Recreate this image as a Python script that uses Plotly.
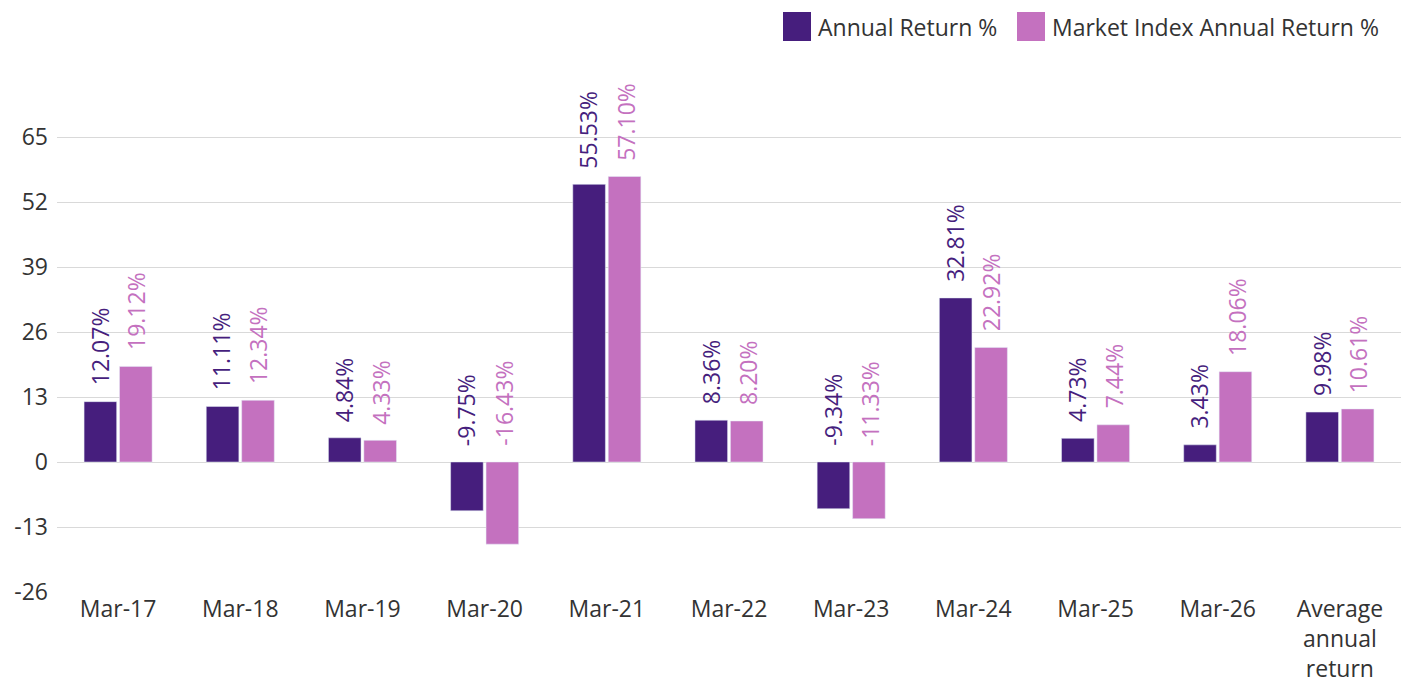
import plotly.graph_objects as go

categories = ["Mar-17", "Mar-18", "Mar-19", "Mar-20", "Mar-21", "Mar-22", "Mar-23",
              "Mar-24", "Mar-25", "Mar-26", "Average<br>annual<br>return"]
annual_return = [12.07, 11.11, 4.84, -9.75, 55.53, 8.36, -9.34, 32.81, 4.73, 3.43, 9.98]
market_return = [19.12, 12.34, 4.33, -16.43, 57.10, 8.20, -11.33, 22.92, 7.44, 18.06, 10.61]
tick_vals = [-26, -13, 0, 13, 26, 39, 52, 65]
tick_text = ["-26", "-13", "0", "13", "26", "39", "52", "65"]

C1 = "#461E7D"
C2 = "#C471BF"
FONT = "Open Sans"
TXT = "#333333"

# page body has an 8px margin; figure is offset by (8, 8)
OFF = 8
W, H = 1401, 675
ML, MR, MT, MB = 57 - OFF, 8, 77 - OFF, 91

fig = go.Figure()
fig.add_trace(go.Bar(x=categories, y=annual_return, name="Annual Return %",
                     marker_color=C1, showlegend=False))
fig.add_trace(go.Bar(x=categories, y=market_return, name="Market Index Annual Return %",
                     marker_color=C2, showlegend=False))

annotations = []
for vals, col, shift in [(annual_return, C1, -18.5), (market_return, C2, 18.5)]:
    for c, v in zip(categories, vals):
        annotations.append(dict(
            x=c, y=max(v, 0), xref="x", yref="y", text=f"{v:.2f}%",
            textangle=-90, showarrow=False, xanchor="center", yanchor="bottom",
            xshift=shift, yshift=14, font=dict(family=FONT, size=23, color=col)))

# legend (custom, to match large swatches); positions in page pixels
pw = W - ML - MR
ph = H - MT - MB
def px_x(p):
    return (p - OFF - ML) / pw
def px_y(p):
    return (H - MB - (p - OFF)) / ph

shapes = []
legend_items = [("Annual Return %", C1, 783), ("Market Index Annual Return %", C2, 1017)]
for name, col, x0 in legend_items:
    shapes.append(dict(type="rect", xref="paper", yref="paper",
                       x0=px_x(x0), x1=px_x(x0 + 28), y0=px_y(41), y1=px_y(12),
                       fillcolor=col, line=dict(width=0)))
    annotations.append(dict(x=px_x(x0 + 33), y=px_y(26.5), xref="paper", yref="paper",
                            text=name, showarrow=False, xanchor="left", yanchor="middle",
                            font=dict(family=FONT, size=23, color=TXT)))

fig.update_layout(
    width=W, height=H,
    margin=dict(l=ML, r=MR, t=MT, b=MB, autoexpand=False),
    plot_bgcolor="white", paper_bgcolor="white",
    barmode="group", bargap=0.42, bargroupgap=0.08,
    font=dict(family=FONT, size=23, color=TXT),
    xaxis=dict(showgrid=False, showline=False, ticks="", automargin=False,
               ticklabelstandoff=1, tickfont=dict(size=23, color=TXT)),
    yaxis=dict(range=[-26, 77], tickvals=tick_vals, ticktext=tick_text, showgrid=True,
               gridcolor="#d9d9d9", gridwidth=1, zeroline=True, zerolinecolor="#d9d9d9",
               zerolinewidth=1, ticks="", automargin=False, ticklabelstandoff=8,
               tickfont=dict(size=23, color=TXT)),
    annotations=annotations, shapes=shapes, showlegend=False,
)

fig.write_html("out.html")
